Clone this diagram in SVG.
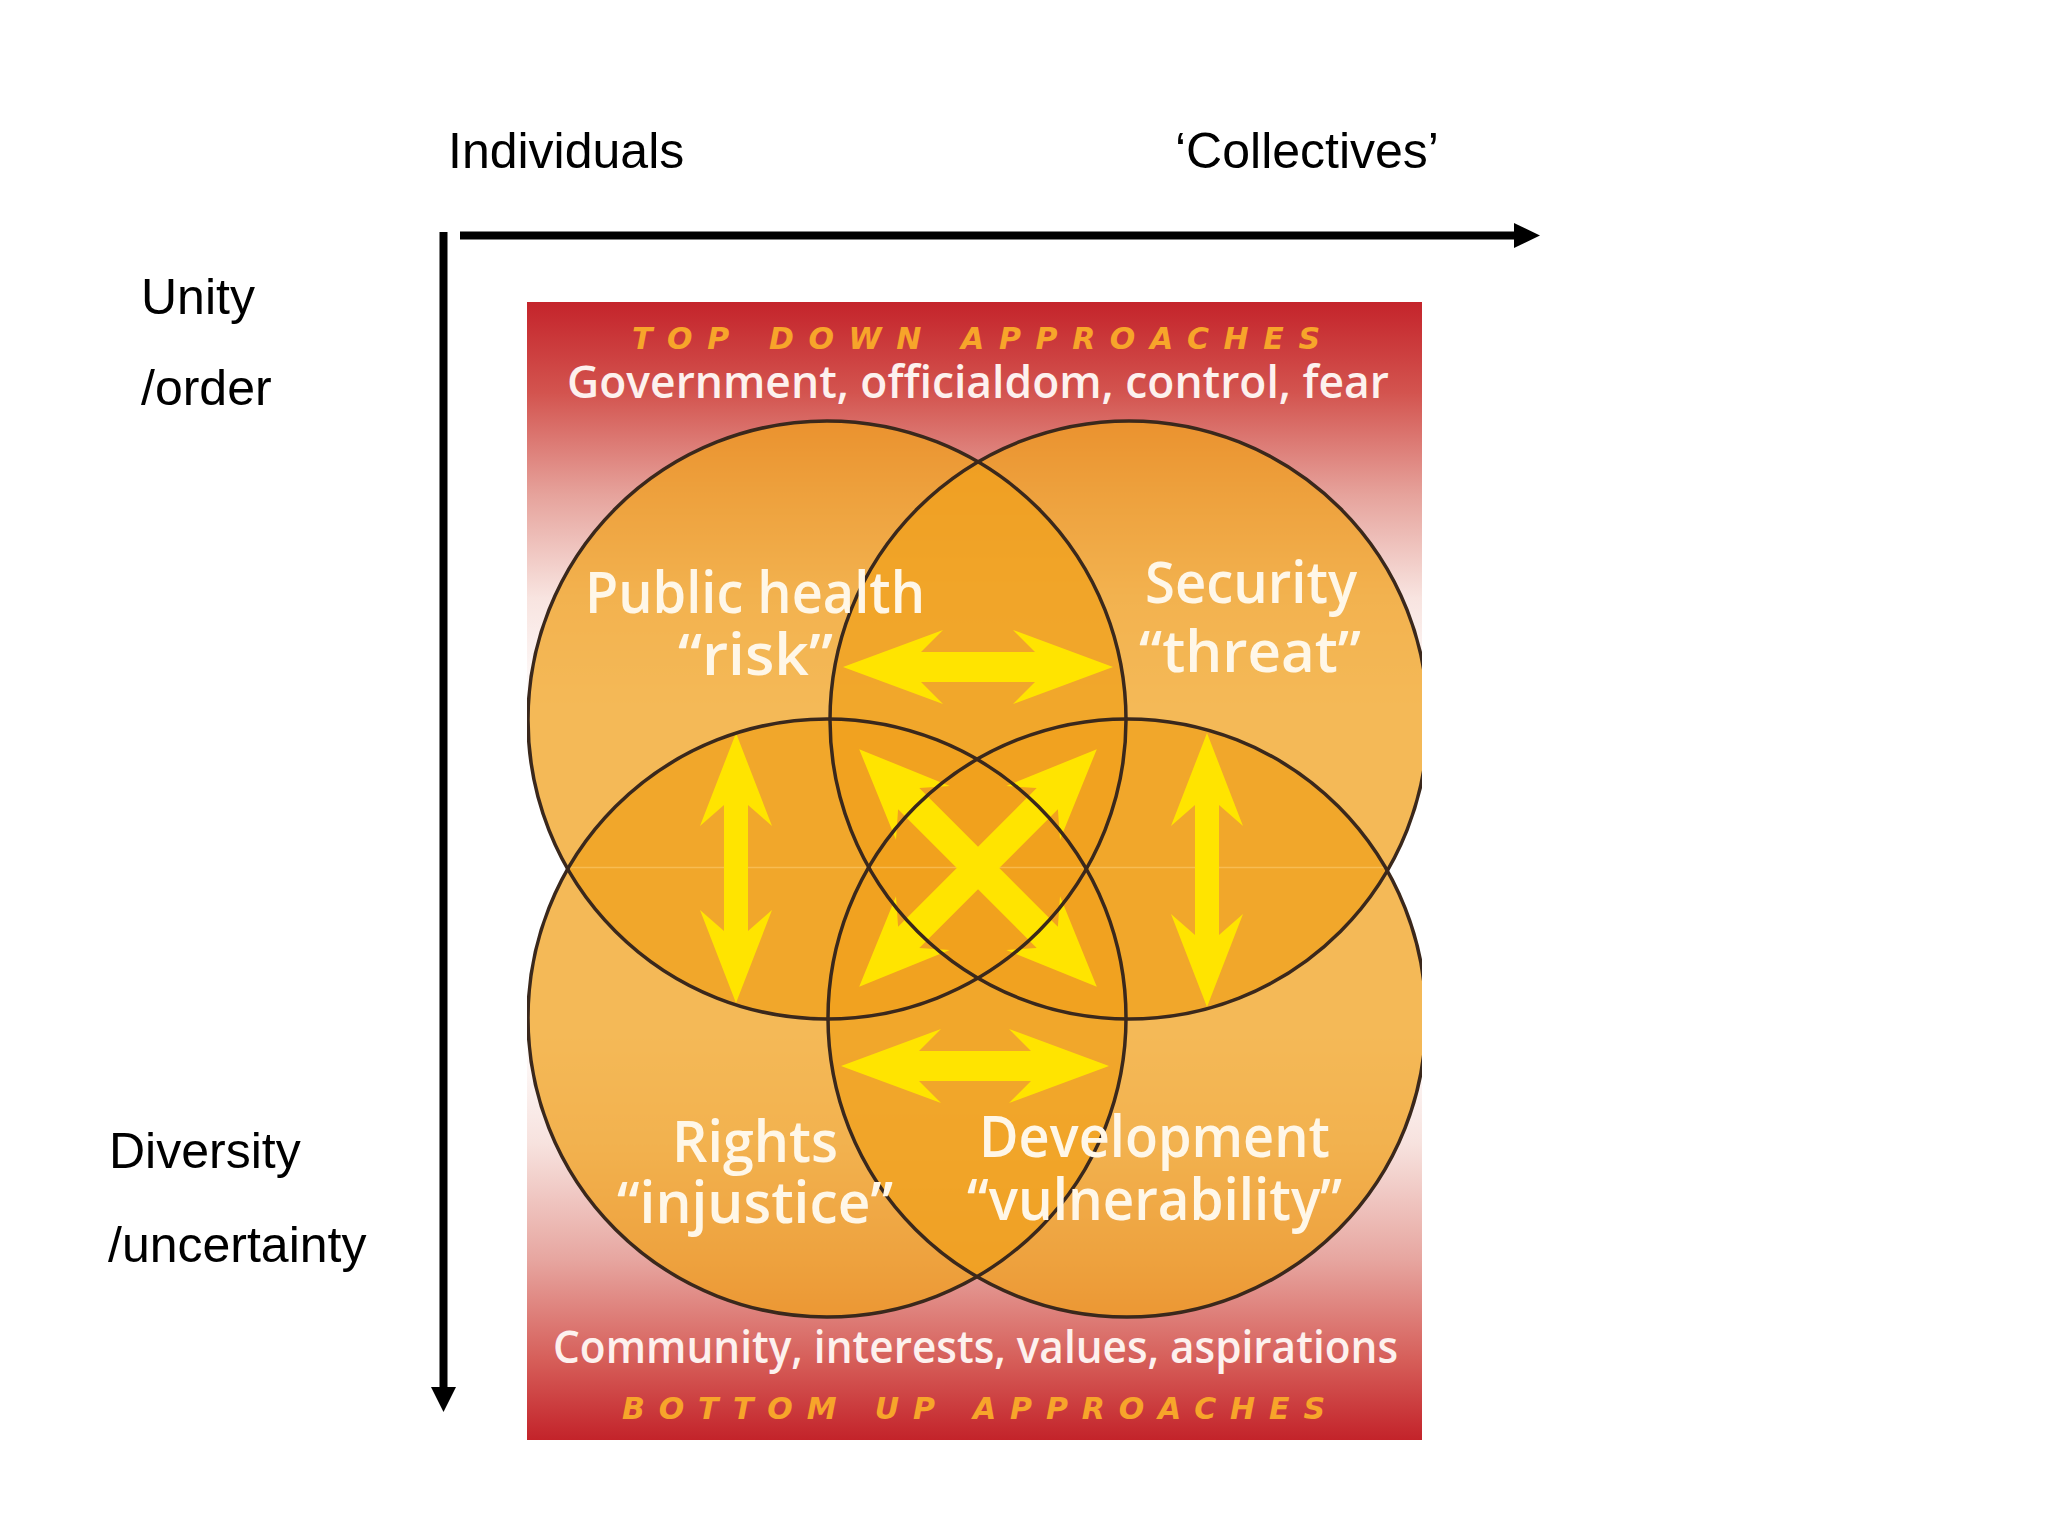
<svg xmlns="http://www.w3.org/2000/svg" width="2048" height="1536" viewBox="0 0 2048 1536">
  <defs>
    <linearGradient id="bg" x1="0" y1="302" x2="0" y2="1440" gradientUnits="userSpaceOnUse">
      <stop offset="0" stop-color="#c4242b"/>
      <stop offset="0.08" stop-color="#d3544f"/>
      <stop offset="0.17" stop-color="#e6a39c"/>
      <stop offset="0.26" stop-color="#f8e4e0"/>
      <stop offset="0.36" stop-color="#ffffff"/>
      <stop offset="0.64" stop-color="#ffffff"/>
      <stop offset="0.74" stop-color="#f7e2de"/>
      <stop offset="0.84" stop-color="#e7a7a1"/>
      <stop offset="0.93" stop-color="#d65e59"/>
      <stop offset="1" stop-color="#c3232a"/>
    </linearGradient>
    <clipPath id="box">
      <rect x="527" y="302" width="895" height="1138"/>
    </clipPath>
    <path id="dbl" d="M-168,0 L-78,-38 L-98,-15 L98,-15 L78,-38 L168,0 L78,38 L98,15 L-98,15 L-78,38 Z"/>
  </defs>
  <style>
    .axis { font-family: "Liberation Sans", Arial, sans-serif; font-size: 50px; fill: #000; }
    .fill { fill: #f0a01c; fill-opacity: 0.74; }
    .ring { fill: none; stroke: #3a281c; stroke-width: 3.5; }
    .label { font-family: "Open Sans", "DejaVu Sans", sans-serif; font-weight: 600; font-size: 57px; fill: #fff7e8; }
    .banner { font-family: "Open Sans", "DejaVu Sans", sans-serif; font-weight: 600; font-size: 45px; fill: #fdf1ee; }
    .approach { font-family: "DejaVu Sans", sans-serif; font-weight: bold; font-style: italic; font-size: 30px; fill: #f7a52a; }
    .yarrow { fill: #ffe400; }
    .axisline { stroke: #000; stroke-width: 8; fill: none; }
  </style>

  <rect width="2048" height="1536" fill="#ffffff"/>

  <!-- background panel -->
  <g id="panel">
    <rect x="527" y="302" width="895" height="1138" fill="url(#bg)"/>
  </g>

  <!-- circle fills -->
  <g id="circle-fills" clip-path="url(#box)">
    <circle class="fill" cx="827" cy="720" r="299"/>
    <circle class="fill" cx="1129" cy="720" r="299"/>
    <circle class="fill" cx="827" cy="1018" r="299"/>
    <circle class="fill" cx="1127" cy="1018" r="299"/>
    <line x1="568" y1="867.5" x2="1388" y2="867.5" stroke="#ffd27a" stroke-width="1.5" stroke-opacity="0.5"/>
  </g>

  <!-- connectors -->
  <g id="connectors">
    <path class="yarrow" d="M843,667 L943,630 L921,652 L1035,652 L1013,630 L1113,667 L1013,704 L1035,682 L921,682 L943,704 Z"/>
    <path class="yarrow" d="M841,1066 L941,1029 L919,1051 L1031,1051 L1009,1029 L1109,1066 L1009,1103 L1031,1081 L919,1081 L941,1103 Z"/>
    <path class="yarrow" d="M736,733 L772,826 L748,805 L748,931 L772,910 L736,1003 L700,910 L724,931 L724,805 L700,826 Z"/>
    <path class="yarrow" d="M1207,733 L1243,826 L1219,805 L1219,935 L1243,914 L1207,1007 L1171,914 L1195,935 L1195,805 L1171,826 Z"/>
    <use href="#dbl" class="yarrow" transform="translate(978,868) rotate(45)"/>
    <use href="#dbl" class="yarrow" transform="translate(978,868) rotate(-45)"/>
    <line class="axisline" x1="460" y1="235.5" x2="1516" y2="235.5"/>
    <polygon points="1514,223 1540,235.5 1514,248" fill="#000"/>
    <line class="axisline" x1="443.5" y1="232" x2="443.5" y2="1390"/>
    <polygon points="431,1387 443.5,1412 456,1387" fill="#000"/>
  </g>

  <!-- nodes -->
  <g id="node-public-health" clip-path="url(#box)">
    <circle class="ring" cx="827" cy="720" r="299"/>
  </g>
  <g id="node-security" clip-path="url(#box)">
    <circle class="ring" cx="1129" cy="720" r="299"/>
  </g>
  <g id="node-rights" clip-path="url(#box)">
    <circle class="ring" cx="827" cy="1018" r="299"/>
  </g>
  <g id="node-development" clip-path="url(#box)">
    <circle class="ring" cx="1127" cy="1018" r="299"/>
  </g>

  <g id="label-public-health">
    <text class="label" x="585" y="613" textLength="340" lengthAdjust="spacingAndGlyphs">Public health</text>
    <text class="label" x="678" y="675" textLength="155" lengthAdjust="spacingAndGlyphs">“risk”</text>
  </g>
  <g id="label-security">
    <text class="label" x="1145" y="603" textLength="212" lengthAdjust="spacingAndGlyphs">Security</text>
    <text class="label" x="1139" y="672" textLength="222" lengthAdjust="spacingAndGlyphs">“threat”</text>
  </g>
  <g id="label-rights">
    <text class="label" x="672" y="1162" textLength="166" lengthAdjust="spacingAndGlyphs">Rights</text>
    <text class="label" x="617" y="1223" textLength="276" lengthAdjust="spacingAndGlyphs">“injustice”</text>
  </g>
  <g id="label-development">
    <text class="label" x="979" y="1157" textLength="351" lengthAdjust="spacingAndGlyphs">Development</text>
    <text class="label" x="967" y="1220" textLength="375" lengthAdjust="spacingAndGlyphs">“vulnerability”</text>
  </g>

  <g id="top-banner">
    <text class="approach" x="632" y="349" textLength="688" lengthAdjust="spacing">TOP DOWN APPROACHES</text>
    <text class="banner" x="567" y="398" textLength="822" lengthAdjust="spacingAndGlyphs">Government, officialdom, control, fear</text>
  </g>
  <g id="bottom-banner">
    <text class="banner" x="553" y="1363" textLength="845" lengthAdjust="spacingAndGlyphs">Community, interests, values, aspirations</text>
    <text class="approach" x="622" y="1419" textLength="703" lengthAdjust="spacing">BOTTOM UP APPROACHES</text>
  </g>

  <g id="axis-labels">
    <text class="axis" x="448" y="168">Individuals</text>
    <text class="axis" x="1175" y="168">‘Collectives’</text>
    <text class="axis" x="141" y="314">Unity</text>
    <text class="axis" x="141" y="405">/order</text>
    <text class="axis" x="109" y="1168">Diversity</text>
    <text class="axis" x="108" y="1262">/uncertainty</text>
  </g>
</svg>
